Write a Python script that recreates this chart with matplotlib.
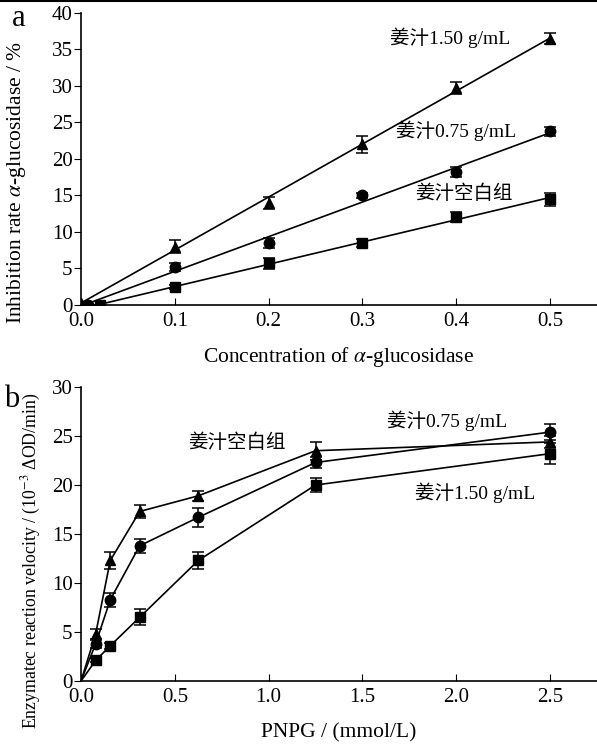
import numpy as np
import matplotlib.pyplot as plt
from matplotlib.lines import Line2D

plt.rcParams['font.family'] = ['Liberation Serif', 'Noto Sans CJK SC']
plt.rcParams['mathtext.fontset'] = 'stix'

# ---- panel a: inhibition rate vs enzyme concentration ----
a_x_tri = [0.0, 0.1, 0.2, 0.3, 0.4, 0.5]
a_y_tri = [0.3, 8.0, 14.0, 22.0, 29.7, 36.5]
a_e_tri = [0.0, 0.9, 0.8, 1.2, 0.8, 0.8]
a_x_cir = [0.007, 0.1, 0.2, 0.3, 0.4, 0.5]
a_y_cir = [0.0, 5.2, 8.5, 15.0, 18.2, 23.8]
a_e_cir = [0.0, 0.6, 0.7, 0.3, 0.7, 0.6]
a_x_sq = [0.02, 0.1, 0.2, 0.3, 0.4, 0.5]
a_y_sq = [0.0, 2.5, 5.7, 8.5, 12.0, 14.5]
a_e_sq = [0.0, 0.3, 0.8, 0.6, 0.7, 0.9]

# ---- panel b: reaction velocity vs PNPG ----
b_x = [0.0, 0.078, 0.156, 0.3125, 0.625, 1.25, 2.5]
b_y_tri = [0.0, 4.8, 12.3, 17.3, 18.9, 23.5, 24.4]
b_e_tri = [0.0, 0.5, 0.9, 0.7, 0.5, 0.9, 0.6]
b_y_cir = [0.0, 3.8, 8.3, 13.8, 16.7, 22.3, 25.4]
b_e_cir = [0.0, 0.4, 0.7, 0.7, 1.0, 0.6, 0.8]
b_y_sq = [0.0, 2.1, 3.6, 6.5, 12.3, 20.0, 23.2]
b_e_sq = [0.0, 0.2, 0.3, 0.8, 0.9, 0.7, 1.1]

fig = plt.figure(figsize=(5.97, 7.46), dpi=100)
fig.add_artist(Line2D([0, 1], [0.999, 0.999], color='black', lw=1.5, transform=fig.transFigure))

ax1 = fig.add_axes([0.1357, 0.5912, 0.8643, 0.3914])
ax2 = fig.add_axes([0.1357, 0.0871, 0.8643, 0.3941])

style = dict(color='black', ls='none', ms=7.5, capsize=4, elinewidth=1.1, capthick=1.1)

for xs, ys, es, m in [(a_x_tri, a_y_tri, a_e_tri, '^'),
                      (a_x_cir, a_y_cir, a_e_cir, 'o'),
                      (a_x_sq, a_y_sq, a_e_sq, 's')]:
    ax1.errorbar(xs, ys, yerr=es, marker=m, **style)
    k, b = np.polyfit(xs, ys, 1)
    xx = np.array([xs[0], xs[-1]])
    ax1.plot(xx, k * xx + b, color='black', lw=1.2)

ax1.text(0.329, 36.6, '姜汁1.50 g/mL', fontsize=14, ha='left', va='center')
ax1.text(0.336, 23.9, '姜汁0.75 g/mL', fontsize=14, ha='left', va='center')
ax1.text(0.356, 15.2, '姜汁空白组', fontsize=14, ha='left', va='center')

ax1.set_xlim(0, 0.55)
ax1.set_ylim(0, 40)
ax1.set_xticks([0.0, 0.1, 0.2, 0.3, 0.4, 0.5])
ax1.set_xticklabels(['0.0', '0.1', '0.2', '0.3', '0.4', '0.5'])
ax1.set_yticks(range(0, 41, 5))
ax1.set_xlabel(r'Concentration of $\it{\alpha}$-glucosidase', fontsize=15.5, labelpad=10)
ax1.set_ylabel(r'Inhibition rate $\it{\alpha}$-glucosidase / %', fontsize=15.5)
ax1.yaxis.set_label_coords(-0.102, 0.42)

for xs, ys, es, m in [(b_x, b_y_tri, b_e_tri, '^'),
                      (b_x, b_y_cir, b_e_cir, 'o'),
                      (b_x, b_y_sq, b_e_sq, 's')]:
    ax2.plot(xs, ys, color='black', lw=1.2)
    ax2.errorbar(xs[1:], ys[1:], yerr=es[1:], marker=m, **style)

ax2.text(0.57, 24.3, '姜汁空白组', fontsize=14, ha='left', va='center')
ax2.text(1.63, 26.6, '姜汁0.75 g/mL', fontsize=14, ha='left', va='center')
ax2.text(1.78, 19.2, '姜汁1.50 g/mL', fontsize=14, ha='left', va='center')

ax2.set_xlim(0, 2.75)
ax2.set_ylim(0, 30)
ax2.set_xticks([0.0, 0.5, 1.0, 1.5, 2.0, 2.5])
ax2.set_xticklabels(['0.0', '0.5', '1.0', '1.5', '2.0', '2.5'])
ax2.set_yticks(range(0, 31, 5))
ax2.set_xlabel('PNPG / (mmol/L)', fontsize=15.5, labelpad=12)
ax2.set_ylabel(r'Enzymatec reaction velocity / (10$^{-3}$ ΔOD/min)', fontsize=12.8)
ax2.yaxis.set_label_coords(-0.074, 0.41)

for ax in (ax1, ax2):
    ax.spines['top'].set_visible(False)
    ax.spines['right'].set_visible(False)
    ax.spines['left'].set_linewidth(1.2)
    ax.spines['bottom'].set_linewidth(1.2)
    ax.tick_params(axis='x', direction='in', length=5, labelsize=15, pad=5)
    ax.tick_params(axis='y', direction='out', length=5, labelsize=15, pad=1)

fig.text(0.02, 0.975, 'a', fontsize=22, ha='left', va='center')
fig.text(0.006, 0.465, 'b', fontsize=22, ha='left', va='center')

fig.savefig('out.png', dpi=100)
